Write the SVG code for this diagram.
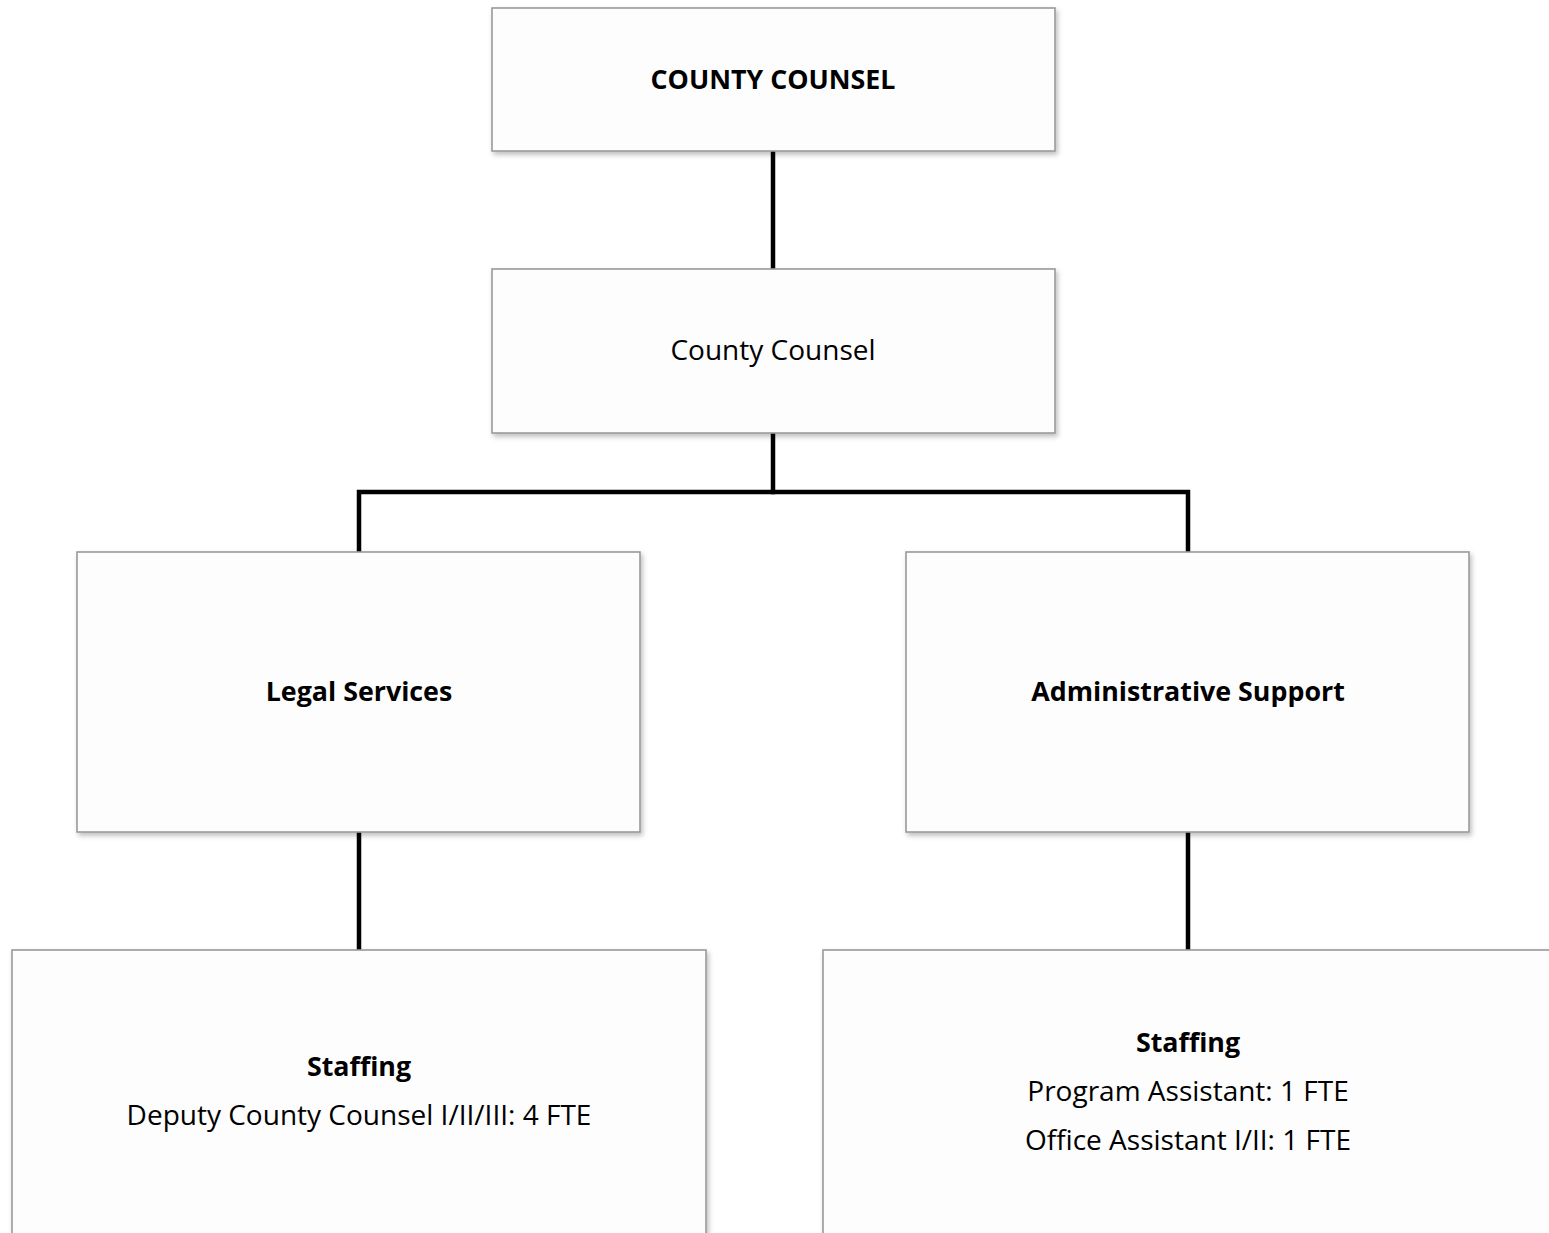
<svg xmlns="http://www.w3.org/2000/svg" width="1549" height="1233" viewBox="0 0 1549 1233">
<defs>
<filter id="sh" x="-5%" y="-5%" width="110%" height="115%">
<feDropShadow dx="2" dy="3" stdDeviation="2.5" flood-color="#000" flood-opacity="0.25"/>
</filter>
</defs>
<style>
.box{fill:#fdfdfd;stroke:#999;stroke-width:1.6;filter:url(#sh)}
.t{font-family:"Open Sans","Liberation Sans",sans-serif;font-size:28px;fill:#000;text-anchor:middle}
.b{font-weight:bold;font-size:26.8px}
.c{stroke:#000;stroke-width:4.5;fill:none;stroke-linecap:square}
</style>
<rect width="1549" height="1233" fill="#fff"/>
<g id="connectors">
<line class="c" x1="773" y1="152" x2="773" y2="268"/>
<line class="c" x1="773" y1="434" x2="773" y2="492"/>
<polyline class="c" points="359,551 359,492 1188,492 1188,551"/>
<line class="c" x1="359" y1="833" x2="359" y2="949"/>
<line class="c" x1="1188" y1="833" x2="1188" y2="949"/>
</g>
<g id="county-counsel-top">
<rect class="box" x="492" y="8" width="563" height="143"/>
<text class="t b" x="773" y="89">COUNTY COUNSEL</text>
</g>
<g id="county-counsel">
<rect class="box" x="492" y="269" width="563" height="164"/>
<text class="t" x="773" y="360">County Counsel</text>
</g>
<g id="legal-services">
<rect class="box" x="77" y="552" width="563" height="280"/>
<text class="t b" x="359" y="701">Legal Services</text>
</g>
<g id="administrative-support">
<rect class="box" x="906" y="552" width="563" height="280"/>
<text class="t b" x="1188" y="701">Administrative Support</text>
</g>
<g id="staffing-legal">
<rect class="box" x="12" y="950" width="694" height="300"/>
<text class="t b" x="359" y="1076">Staffing</text>
<text class="t" x="359" y="1125">Deputy County Counsel I/II/III: 4 FTE</text>
</g>
<g id="staffing-admin">
<rect class="box" x="823" y="950" width="760" height="300"/>
<text class="t b" x="1188" y="1052">Staffing</text>
<text class="t" x="1188" y="1101">Program Assistant: 1 FTE</text>
<text class="t" x="1188" y="1150">Office Assistant I/II: 1 FTE</text>
</g>
</svg>
